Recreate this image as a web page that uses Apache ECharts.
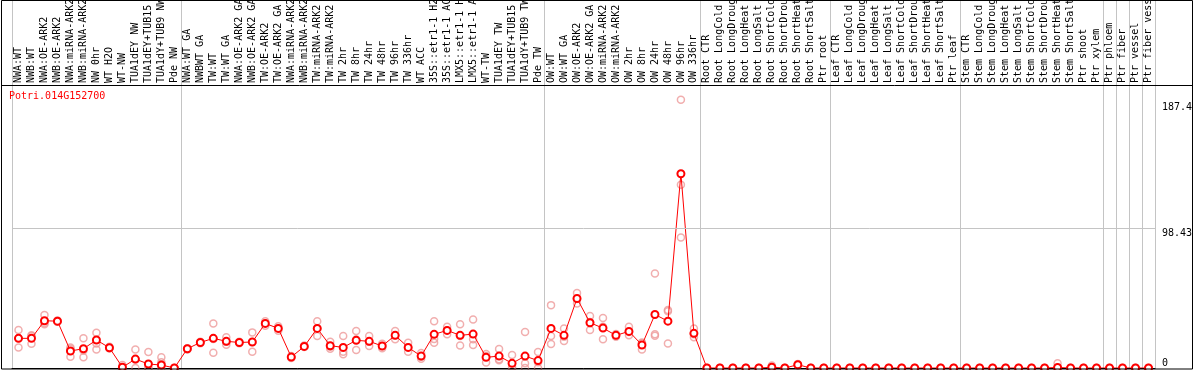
<!DOCTYPE html>
<html>
<head>
<meta charset="utf-8">
<script src="https://cdn.jsdelivr.net/npm/echarts@6/dist/echarts.min.js"></script>
<style>
html,body{margin:0;padding:0;background:#fff;}
#chart{width:1194px;height:370px;}
</style>
</head>
<body>
<div id="chart"></div>
<script>
const geneTitle = 'Potri.014G152700';

const categories = [
  'NWA:WT','NWB:WT','NWA:OE-ARK2','NWB:OE-ARK2','NWA:miRNA-ARK2','NWB:miRNA-ARK2','NW 0hr','WT H2O','WT-NW','TUA1dEY NW','TUA1dEY+TUB15 NW','TUA1dY+TUB9 NW','Pde NW',
  'NWA:WT GA','NWBWT GA','TW:WT','TW:WT GA','NWA:OE-ARK2 GA','NWB:OE-ARK2 GA','TW:OE-ARK2','TW:OE-ARK2 GA','NWA:miRNA-ARK2 GA','NWB:miRNA-ARK2 GA','TW:miRNA-ARK2','TW:miRNA-ARK2 GA','TW 2hr','TW 8hr','TW 24hr','TW 48hr','TW 96hr','TW 336hr','WT ACC','35S::etr1-1 H2O','35S::etr1-1 ACC','LMX5::etr1-1 H2O','LMX5::etr1-1 ACC','WT-TW','TUA1dEY TW','TUA1dEY+TUB15 TW','TUA1dY+TUB9 TW','Pde TW',
  'OW:WT','OW:WT GA','OW:OE-ARK2','OW:OE-ARK2 GA','OW:miRNA-ARK2','OW:miRNA-ARK2 GA','OW 2hr','OW 8hr','OW 24hr','OW 48hr','OW 96hr','OW 336hr',
  'Root CTR','Root LongCold','Root LongDrought','Root LongHeat','Root LongSalt','Root ShortCold','Root ShortDrought','Root ShortHeat','Root ShortSalt','Ptr root',
  'Leaf CTR','Leaf LongCold','Leaf LongDrought','Leaf LongHeat','Leaf LongSalt','Leaf ShortCold','Leaf ShortDrought','Leaf ShortHeat','Leaf ShortSalt','Ptr leaf',
  'Stem CTR','Stem LongCold','Stem LongDrought','Stem LongHeat','Stem LongSalt','Stem ShortCold','Stem ShortDrought','Stem ShortHeat','Stem ShortSalt','Ptr shoot','Ptr xylem',
  'Ptr phloem','Ptr fiber','Ptr vessel','Ptr fiber vessel'
];

// index of first category of each sample group (gray separators)
const groupStarts = [0, 13, 41, 53, 63, 73, 84, 85, 86, 87];

// mean expression per sample
const meanValues = [
  20.9, 20.9, 33.3, 33.0, 12.0, 13.6, 19.7, 14.3, 0.5, 6.3, 2.8, 2.1, 0,
  13.6, 18.0, 20.9, 18.8, 18.0, 18.3, 31.4, 27.9, 7.7, 15.2, 27.9, 15.7, 14.5, 19.5, 18.8, 15.5, 23.0, 14.5, 8.4, 23.7, 26.5, 23.0, 23.9, 7.5, 8.4, 3.3, 8.4, 5.2,
  27.9, 23.0, 49.0, 31.9, 28.1, 23.0, 25.8, 16.2, 37.7, 33.0, 136.9, 24.4,
  0, 0, 0, 0, 0, 0.5, 0, 2.3, 0, 0,
  0, 0, 0, 0, 0, 0, 0, 0, 0, 0,
  0, 0, 0, 0, 0, 0, 0, 0.4, 0, 0, 0,
  0, 0, 0, 0
];

// replicate values
const repA = [
  26.7, 22.5, 37.3, 33.5, 14.5, 20.9, 24.8, 15.0, 2.1, 13.1, 11.2, 7.5, 0,
  14.0, 18.5, 31.4, 21.6, 18.5, 25.1, 33.0, 29.5, 8.5, 15.8, 33.0, 18.5, 22.5, 26.0, 22.5, 17.0, 26.0, 17.8, 10.5, 33.0, 29.1, 30.9, 34.2, 9.8, 13.4, 9.1, 25.3, 11.2,
  44.3, 27.9, 52.9, 36.6, 35.2, 24.0, 29.1, 18.0, 66.6, 40.8, 189.0, 27.9,
  0, 0, 0, 0, 0, 1.8, 0, 2.8, 0, 0,
  0, 0, 0, 0, 0, 0, 0, 0, 0, 0,
  0, 0, 0, 0, 0, 0, 0, 3.3, 0, 0, 0,
  0, 0, 0, 0
];
const repB = [
  21.0, 23.0, 31.7, 33.0, 13.5, 12.4, 17.3, 14.0, 0, 6.0, 0, 4.0, 0,
  13.5, 18.0, 20.5, 18.5, 18.0, 18.3, 31.4, 27.9, 7.5, 15.0, 28.0, 15.0, 11.5, 20.0, 18.5, 15.5, 23.0, 14.5, 8.0, 20.5, 26.5, 22.5, 20.2, 8.5, 6.1, 1.0, 3.3, 4.0,
  22.5, 22.0, 48.6, 32.4, 29.0, 23.0, 25.3, 17.5, 23.7, 40.0, 129.2, 23.7,
  0, 0, 0, 0, 0, 0, 0, 2.3, 0, 0,
  0, 0, 0, 0, 0, 0, 0, 0, 0, 0,
  0, 0, 0, 0, 0, 0, 0, 0, 0, 0, 0,
  0, 0, 0, 0
];
const repC = [
  14.5, 17.1, 30.9, 32.5, 8.0, 7.5, 13.1, 14.0, 0, 0, 0, 0, 0,
  13.0, 17.5, 10.8, 16.4, 17.5, 11.5, 29.8, 26.3, 7.0, 14.8, 22.5, 13.6, 9.7, 12.7, 15.5, 14.0, 20.2, 11.5, 6.5, 17.8, 23.7, 15.9, 16.2, 3.8, 5.5, 0, 0, 0,
  16.9, 19.0, 45.5, 26.7, 20.2, 22.0, 23.0, 13.1, 22.8, 17.3, 91.9, 21.6,
  0, 0, 0, 0, 0, 0, 0, 1.8, 0, 0,
  0, 0, 0, 0, 0, 0, 0, 0, 0, 0,
  0, 0, 0, 0, 0, 0, 0, 0, 0, 0, 0,
  0, 0, 0, 0
];

// value labels shown at the right
const yTickValues = [187.4, 98.43, 0];
const yMax = 199.4;

const MONO = '"DejaVu Sans Mono", "Liberation Mono", monospace';

const repData = [];
[repA, repB, repC].forEach(arr => arr.forEach((v, i) => repData.push([i, v])));

const sepInterval = (idx) => groupStarts.indexOf(idx) >= 0;

const chart = echarts.init(document.getElementById('chart'), null, {renderer: 'canvas'});

const markData = yTickValues.map((v, k) => ({
  yAxis: v,
  lineStyle: k === 1 ? {color: '#c4c4c4', width: 1, type: 'solid'} : {color: 'rgba(0,0,0,0)', width: 0},
  label: {verticalAlign: v === 0 ? 'bottom' : 'top'}
}));

chart.setOption({
  animation: false,
  backgroundColor: '#fff',
  title: {
    text: geneTitle, left: 9, top: 91, padding: 0,
    textStyle: {color: '#ff0000', fontFamily: MONO, fontSize: 10, fontWeight: 'normal'}
  },
  grid: [
    {left: 12, top: 85, width: 1143, height: 283, containLabel: false, outerBoundsMode: 'none'},
    {left: 12, top: 0, width: 1143, height: 85, containLabel: false, outerBoundsMode: 'none'}
  ],
  xAxis: [
    {
      type: 'category', data: categories, gridIndex: 0, position: 'top', boundaryGap: true,
      axisLine: {show: true, lineStyle: {color: '#000', width: 1}},
      axisTick: {show: false},
      axisLabel: {show: true, interval: 0, rotate: 90, margin: 2, color: '#000', fontFamily: MONO, fontSize: 10},
      splitLine: {show: true, interval: sepInterval, lineStyle: {color: '#c4c4c4', width: 1}}
    },
    {
      type: 'category', data: categories, gridIndex: 1, position: 'bottom', boundaryGap: true,
      axisLine: {show: false}, axisTick: {show: false}, axisLabel: {show: false},
      splitLine: {show: true, interval: sepInterval, lineStyle: {color: '#c4c4c4', width: 1}}
    }
  ],
  yAxis: [
    {
      type: 'value', gridIndex: 0, min: 0, max: yMax, position: 'right',
      axisLine: {show: true, lineStyle: {color: '#c4c4c4'}},
      axisTick: {show: false}, axisLabel: {show: false}, splitLine: {show: false}
    },
    {
      type: 'value', gridIndex: 1, min: 0, max: 1, position: 'right',
      axisLine: {show: true, lineStyle: {color: '#c4c4c4'}},
      axisTick: {show: false}, axisLabel: {show: false}, splitLine: {show: false}
    }
  ],
  series: [
    {
      type: 'scatter', xAxisIndex: 0, yAxisIndex: 0, z: 2,
      symbol: 'circle', symbolSize: 7,
      itemStyle: {color: 'rgba(0,0,0,0)', borderColor: '#ee9a9a', borderWidth: 1.5},
      data: repData, silent: true
    },
    {
      type: 'line', xAxisIndex: 0, yAxisIndex: 0, z: 3,
      data: meanValues,
      symbol: 'circle', symbolSize: 7, showAllSymbol: true,
      lineStyle: {color: '#ff0000', width: 1},
      itemStyle: {color: '#ffffff', borderColor: '#ff0000', borderWidth: 2},
      silent: true,
      markLine: {
        silent: true, symbol: 'none', animation: false,
        label: {show: true, position: 'end', distance: 7, formatter: '{c}', color: '#000', fontFamily: MONO, fontSize: 10},
        data: markData
      }
    }
  ],
  graphic: [
    {type: 'rect', silent: true, z: 100, shape: {x: 1.5, y: 0.5, width: 1191, height: 368.5},
     style: {fill: 'none', stroke: '#000', lineWidth: 1}},
    {type: 'line', silent: true, z: 100, shape: {x1: 1.5, y1: 85.5, x2: 1192.5, y2: 85.5},
     style: {stroke: '#000', lineWidth: 1}}
  ]
});
</script>
</body>
</html>
